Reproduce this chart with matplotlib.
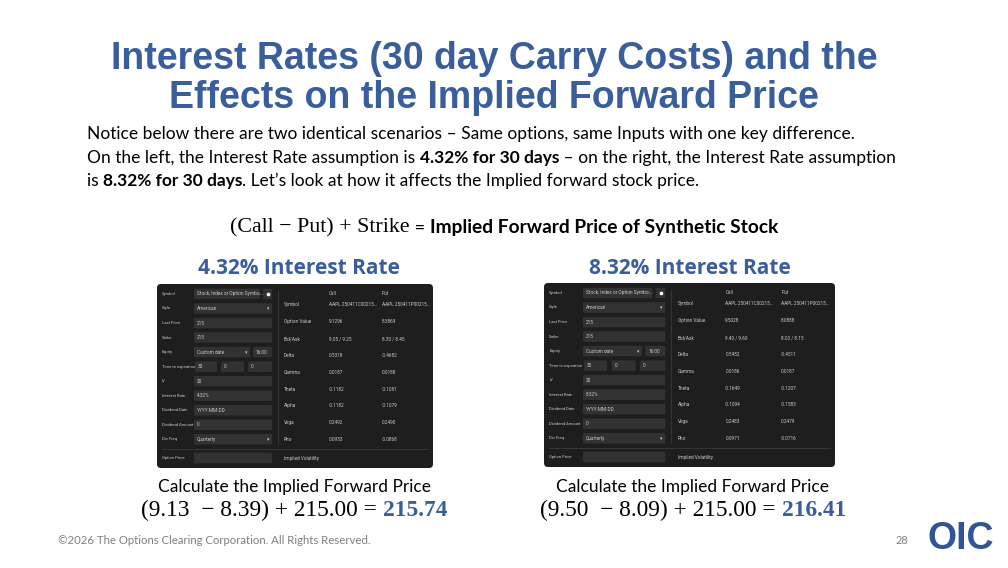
import matplotlib
matplotlib.use("Agg")
import matplotlib.pyplot as plt
from matplotlib import font_manager
from matplotlib.patches import FancyBboxPatch

# ---------------------------------------------------------------
# DADOS
# ---------------------------------------------------------------

titulo = ["Interest Rates (30 day Carry Costs) and the",
          "Effects on the Implied Forward Price"]

rotulos_entrada = ["Symbol", "Style", "Last Price", "Strike", "Expiry",
                   "Time to expiration", "IV", "Interest Rate",
                   "Dividend Date", "Dividend Amount", "Div Freq"]

rotulos_saida = ["Symbol", "Option Value", "Bid/Ask", "Delta", "Gamma",
                 "Theta", "Alpha", "Vega", "Rho"]

cenarios = ["4.32% Interest Rate", "8.32% Interest Rate"]
taxas = ["4.32%", "8.32%"]

call_esq = ["AAPL 250411C00215...", "9.1296", "9.05 / 9.25", "0.5318",
            "0.0187", "-0.1182", "-0.1182", "0.2492", "0.0933"]
put_esq = ["AAPL 250411P00215...", "8.3869", "8.30 / 8.45", "-0.4682",
           "0.0188", "-0.1081", "-0.1079", "0.2490", "-0.0868"]
call_dir = ["AAPL 250411C00215...", "9.5028", "9.40 / 9.60", "0.5452",
            "0.0186", "-0.1649", "-0.1094", "0.2483", "0.0971"]
put_dir = ["AAPL 250411P00215...", "8.0888", "8.00 / 8.15", "-0.4511",
           "0.0187", "-0.1207", "-0.1583", "0.2479", "-0.0716"]

call_preco = [9.13, 9.50]
put_preco = [8.39, 8.09]
strike = 215.00

# ---------------------------------------------------------------
# FONTES
# ---------------------------------------------------------------

nomes = {f.name for f in font_manager.fontManager.ttflist}
FONTE_TITULO = "Liberation Sans Narrow" if "Liberation Sans Narrow" in nomes else "Liberation Sans"
FONTE_CORPO = "Lato"
FONTE_SERIF = "Liberation Serif"
FONTE_PAINEL = "Roboto"

AZUL = "#3a5d9c"

# ---------------------------------------------------------------
# FIGURA (coordenadas em pixels)
# ---------------------------------------------------------------

fig = plt.figure(figsize=(10.08, 5.68), dpi=100)
ax = fig.add_axes([0, 0, 1, 1])
ax.set_xlim(0, 1008)
ax.set_ylim(568, 0)
ax.axis("off")
renderer = fig.canvas.get_renderer()


def largura(txt, **kw):
    t1 = ax.text(0, 0, "|" + txt + "|", **kw)
    t2 = ax.text(0, 0, "||", **kw)
    w = t1.get_window_extent(renderer).width - t2.get_window_extent(renderer).width
    t1.remove()
    t2.remove()
    return w


def escrever(x, y, partes, ha="left"):
    total = sum(largura(txt, **kw) for txt, kw in partes)
    pos = x - total / 2 if ha == "center" else x
    for txt, kw in partes:
        ax.text(pos, y, txt, va="center", ha="left", **kw)
        pos += largura(txt, **kw)


# Título
for i, linha in enumerate(titulo):
    ax.text(494, 59 + i * 39, linha, ha="center", va="center",
            fontsize=27, fontweight="bold", color=AZUL, family=FONTE_TITULO)

# Texto explicativo
n = dict(fontsize=12.5, family=FONTE_CORPO, color="black")
b = dict(fontsize=12.5, family=FONTE_CORPO, color="black", fontweight="bold")
escrever(87, 134, [("Notice below there are two identical scenarios \u2013 Same options, "
                    "same Inputs with one key difference.", n)])
escrever(87, 158, [("On the left, the Interest Rate assumption is ", n),
                   ("4.32% for 30 days", b),
                   (" \u2013 on the right, the Interest Rate assumption", n)])
escrever(87, 181, [("is ", n), ("8.32% for 30 days", b),
                   (". Let\u2019s look at how it affects the Implied forward stock price.", n)])

# Fórmula
s = dict(fontsize=15.8, family=FONTE_SERIF, color="black")
bb = dict(fontsize=13.8, family=FONTE_CORPO, color="black", fontweight="bold")
escrever(504, 228, [("(Call \u2212 Put) + Strike", s), (" = ", dict(n, fontsize=13)),
                    ("Implied Forward Price of Synthetic Stock", bb)], ha="center")

# ---------------------------------------------------------------
# PAINÉIS (calculadora de opções)
# ---------------------------------------------------------------

paineis = [(157, 284, 276, 184), (544, 283, 291, 184)]
dados_call = [call_esq, call_dir]
dados_put = [put_esq, put_dir]

entradas = [
    ["Stock, Index or Option Symbo..."], ["American"], ["215"], ["215"],
    ["Custom date", "16:00"], ["30", "0", "0"], ["20"], [None],
    ["YYYY-MM-DD"], ["0"], ["Quarterly"]
]

COR_PAINEL = "#1e1e1e"
COR_CAMPO = "#323232"
COR_TXT = "#c9c9c9"
tp = dict(fontsize=3.4, family=FONTE_PAINEL, color=COR_TXT, va="center")
tr = dict(tp, fontsize=3.0)


def campo(x0, y0, x1, h, txt, seta=False):
    ax.add_patch(FancyBboxPatch((x0, y0 - h / 2), x1 - x0, h,
                                boxstyle="round,pad=0,rounding_size=1.2",
                                fc=COR_CAMPO, ec="none"))
    if txt:
        ax.text(x0 + 3, y0, txt, ha="left", **tp)
    if seta:
        ax.text(x1 - 3, y0, "\u25be", ha="right", **dict(tp, fontsize=3.5, family="DejaVu Sans"))


for k, (x0, y0, w, h) in enumerate(paineis):
    X = lambda f: x0 + f * w
    Y = lambda f: y0 + f * h

    ax.add_patch(FancyBboxPatch((x0, y0), w, h,
                                boxstyle="round,pad=0,rounding_size=4",
                                fc=COR_PAINEL, ec="none"))

    # título do cenário
    ax.text(x0 + w / 2 + (4 if k == 0 else 0), y0 - 15, cenarios[k], ha="center", va="center",
            fontsize=15, fontweight="bold", color=AZUL, family="Open Sans")

    # entradas
    passo = 0.079
    fh = 0.057 * h
    for i, rot in enumerate(rotulos_entrada):
        yy = Y(0.054 + i * passo)
        ax.text(X(0.018), yy, rot, ha="left", **tr)
        vals = entradas[i]
        if i == 0:
            campo(X(0.134), yy, X(0.373), fh, vals[0])
            ax.add_patch(FancyBboxPatch((X(0.384), yy - fh / 2), X(0.417) - X(0.384), fh,
                                        boxstyle="round,pad=0,rounding_size=1.2",
                                        fc=COR_CAMPO, ec="none"))
            ax.plot(X(0.4005), yy, "o", ms=1.6, color="white")
        elif i == 4:
            campo(X(0.134), yy, X(0.337), fh, vals[0], seta=True)
            campo(X(0.348), yy, X(0.417), fh, vals[1])
        elif i == 5:
            for (a, c), v in zip([(0.138, 0.217), (0.232, 0.315), (0.33, 0.417)], vals):
                campo(X(a), yy, X(c), fh, v)
        elif i == 7:
            campo(X(0.134), yy, X(0.417), fh, taxas[k])
        else:
            campo(X(0.134), yy, X(0.417), fh, vals[0], seta=i in (1, 10))

    # divisória e rodapé do painel
    ax.plot([X(0.438), X(0.438)], [Y(0.03), Y(0.87)], color="#3a3a3a", lw=0.6)
    ax.plot([X(0.018), X(0.982)], [Y(0.897), Y(0.897)], color="#3a3a3a", lw=0.6)
    yy = Y(0.946)
    ax.text(X(0.018), yy, "Option Price", ha="left", **tr)
    campo(X(0.134), yy, X(0.417), fh, "")
    ax.text(X(0.46), yy, "Implied Volatility", ha="left", **tp)

    # saídas
    ax.text(X(0.623), Y(0.05), "Call", ha="left", **tp)
    ax.text(X(0.815), Y(0.05), "Put", ha="left", **tp)
    for i, rot in enumerate(rotulos_saida):
        yy = Y(0.114 + i * 0.0915)
        ax.text(X(0.46), yy, rot, ha="left", **tp)
        ax.text(X(0.623), yy, dados_call[k][i], ha="left", **tp)
        ax.text(X(0.815), yy, dados_put[k][i], ha="left", **tp)

# ---------------------------------------------------------------
# CÁLCULO DO PREÇO A TERMO
# ---------------------------------------------------------------

centros = [294, 693]
cs = dict(fontsize=12.5, family=FONTE_CORPO, color="black")
fs = dict(fontsize=16.8, family=FONTE_SERIF, color="black")
fb = dict(fontsize=16.8, family=FONTE_SERIF, color=AZUL, fontweight="bold")
for k, cx in enumerate(centros):
    ax.text(cx, 487, "Calculate the Implied Forward Price",
            ha="center", va="center", **cs)
    fwd = call_preco[k] - put_preco[k] + strike
    escrever(cx, 510, [(f"({call_preco[k]:.2f}  \u2212 {put_preco[k]:.2f}) + {strike:.2f} = ", fs),
                       (f"{fwd:.2f}", fb)], ha="center")

# Rodapé
ax.text(58, 540, "\u00a92026 The Options Clearing Corporation. All Rights Reserved.",
        ha="left", va="center", fontsize=8.2, family=FONTE_CORPO, color="#7f7f7f")
ax.text(902, 540, "28", ha="center", va="center", fontsize=8,
        family=FONTE_CORPO, color="#7f7f7f")
ax.text(961, 539, "OIC", ha="center", va="center", fontsize=27,
        fontweight="bold", family="Liberation Sans", color="#2f5597")

fig.savefig("out.png", dpi=100)
